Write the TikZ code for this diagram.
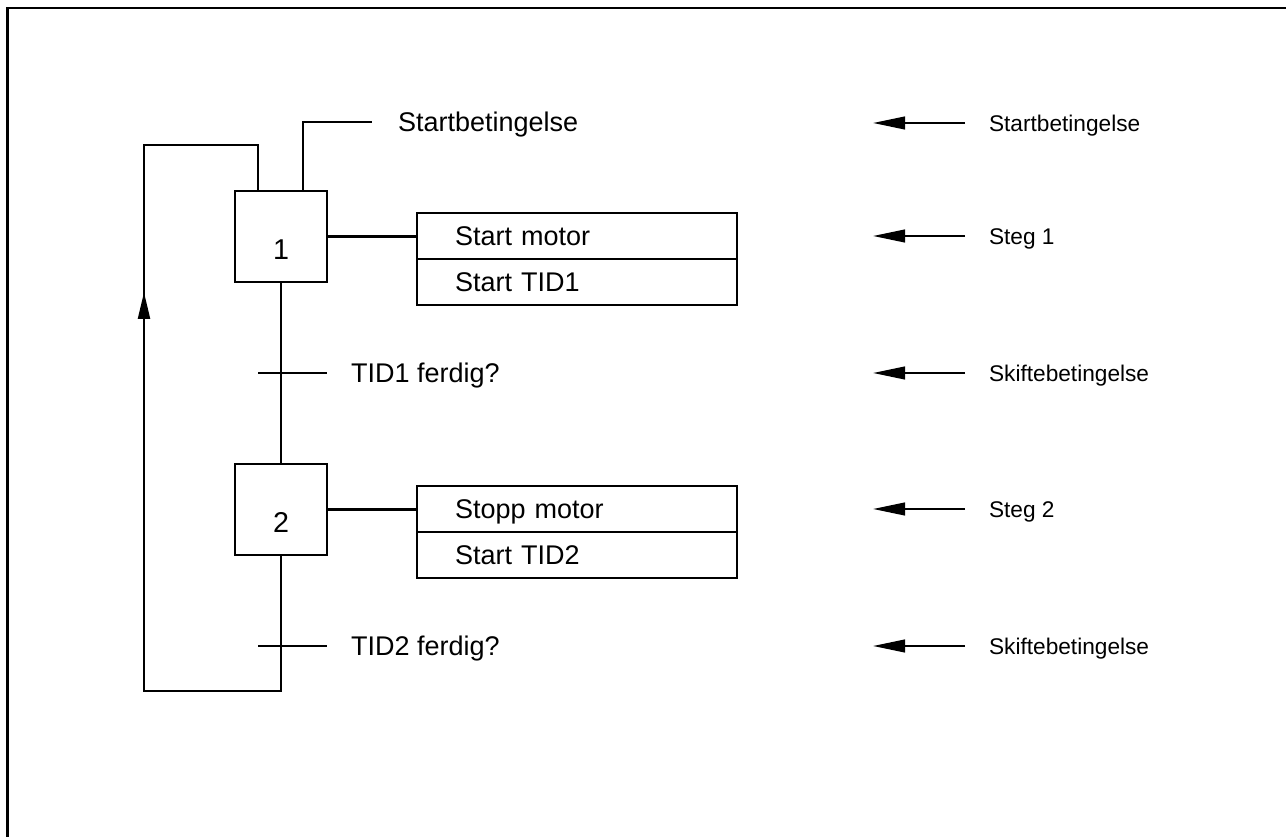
\documentclass[tikz,border=0pt]{standalone}
\usepackage{fontspec}
\setmainfont{Liberation Sans}
\usetikzlibrary{arrows.meta,decorations.markings}
\begin{document}
\begin{tikzpicture}[x=0.75pt,y=-0.75pt, line width=1.6pt,
  mainfont/.style={font=\fontsize{20.25}{24}\selectfont},
  stepbox/.style={draw, font=\fontsize{21.5}{24}\selectfont, minimum width=69pt, minimum height=68.25pt, inner sep=0pt, text height=35pt, text depth=0pt},
  actbox/.style={draw, mainfont, minimum width=240pt, minimum height=34.5pt, text width=183pt, inner xsep=28.5pt, inner ysep=0pt, align=left, text height=14.5pt, text depth=0pt},
  lbl/.style={anchor=west, mainfont, inner sep=0pt, text height=14.5pt, text depth=0pt},
  rlbl/.style={anchor=west, font=\fontsize{17}{20}\selectfont, inner sep=0pt, text height=12.2pt, text depth=0pt},
  rarrow/.style={-{Triangle[length=24pt,width=9.5pt]}},
  looparrow/.style={postaction={decorate}, decoration={markings, mark=at position 503pt with {\arrow{Triangle[length=20pt,width=9pt]}}}}]
\useasboundingbox (0,0) rectangle (1286,837);
% outer frame (only left and top edges visible)
\draw (7.5,837) -- (7.5,8) -- (1286,8);

% steps
\node[stepbox] (s1) at (281,236.5) {1};
\node[stepbox] (s2) at (281,509.5) {2};

% actions
\node[actbox] (a1) at (577,236) {Start motor};
\node[actbox] (a1b) at (577,282) {Start TID1};
\node[actbox] (a2) at (577,509) {Stopp motor};
\node[actbox] (a2b) at (577,555) {Start TID2};

\draw (s1.east) -- (s1.east -| a1.west);
\draw (s2.east) -- (s2.east -| a2.west);

% start condition
\coordinate (sc) at (372,122);
\node[lbl] (st) at (397,122) {Startbetingelse};
\draw ([xshift=16.5pt]s1.north) |- (sc);

% main flow and transitions
\draw (s1.south) -- (s2.north);
\coordinate (t1w) at (258,373);
\coordinate (t1e) at (327,373);
\draw (t1w) -- (t1e);
\node[lbl] (l1) at (350,373) {TID1 ferdig?};

\coordinate (t2w) at (258,646);
\coordinate (t2e) at (327,646);
\draw (t2w) -- (t2e);
\node[lbl] (l2) at (350,646) {TID2 ferdig?};

% loop back
\coordinate (lb) at (281,691);
\coordinate (ll) at (144,691);
\coordinate (lt) at (144,145);
\draw[looparrow] (s2.south) -- (lb) -- (ll) -- (lt) -| ([xshift=-17.25pt]s1.north);

% right-hand annotations
\foreach \y/\txt/\nm in {123/Startbetingelse/r1, 236/Steg 1/r2, 373/Skiftebetingelse/r3, 509/Steg 2/r4, 646/Skiftebetingelse/r5}{
  \coordinate (\nm a) at (965,\y);
  \coordinate (\nm b) at (873,\y);
  \node[rlbl] (\nm) at (988,\y) {\txt};
  \draw[rarrow] (\nm a) -- (\nm b);
}
\end{tikzpicture}
\end{document}
